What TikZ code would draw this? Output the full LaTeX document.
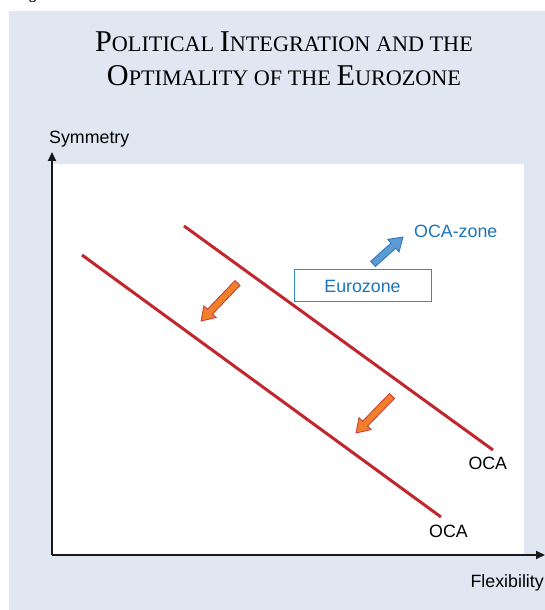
\documentclass[tikz,border=0pt]{standalone}
\usepackage{fontspec}
\setmainfont{Liberation Serif}
\setsansfont{Liberation Sans}
\usetikzlibrary{arrows.meta}
\definecolor{bgblue}{RGB}{224,231,243}
\definecolor{ocared}{RGB}{193,39,45}
\definecolor{arrorange}{RGB}{240,128,42}
\definecolor{arrorangeb}{RGB}{200,56,58}
\definecolor{arrblue}{RGB}{91,155,213}
\definecolor{arrblueb}{RGB}{47,117,181}
\definecolor{textblue}{RGB}{28,117,188}
\definecolor{boxblue}{RGB}{46,139,201}
\newcommand\TBig[1]{{\fontsize{30.2}{32}\selectfont #1}}
\newcommand\TSm[1]{{\fontsize{22.2}{32}\selectfont #1}}
\newcommand\blockarrow[4]{%
  \begin{scope}[shift={(#2)}, rotate=#3]
    \path[#1] (0,-3.5) -- ({#4-13},-3.5) -- ({#4-13},-8.5) -- (#4,0) -- ({#4-13},8.5) -- ({#4-13},3.5) -- (0,3.5) -- cycle;
  \end{scope}}
\begin{document}
\begin{tikzpicture}[x=1pt,y=1pt,
  lab/.style={font=\sffamily\fontsize{17.8}{20}\selectfont, inner sep=0pt},
  ocaline/.style={draw=ocared, line width=3pt},
  axisline/.style={draw=black!90, line width=2.2pt, -{Triangle[width=8pt,length=9pt]}},
  orangearr/.style={fill=arrorange, draw=arrorangeb, line width=0.8pt},
  bluearr/.style={fill=arrblue, draw=arrblueb, line width=0.8pt}]
\useasboundingbox (0,0) rectangle (545,610);
\fill[white] (0,0) rectangle (545,610);
\node[font=\fontsize{14}{14}\selectfont\bfseries, anchor=base, inner sep=0pt] (fig) at (32.5,610.5) {g};
\fill[bgblue] (9,0) rectangle (545,599);
\fill[white] (53,55) rectangle (524,446);
% title
\node[anchor=base, inner sep=0pt] (t1) at (284,558.7) {\TBig{P}\TSm{OLITICAL }\TBig{I}\TSm{NTEGRATION AND THE}};
\node[anchor=base, inner sep=0pt] (t2) at (284,524.7) {\TBig{O}\TSm{PTIMALITY OF THE }\TBig{E}\TSm{UROZONE}};
% axes
\coordinate (origin) at (52,55);
\coordinate (ytip) at (52,458);
\coordinate (xtip) at (545,55);
\draw[axisline] (origin) -- (ytip);
\draw[axisline] (origin) -- (xtip);
\node[lab, anchor=base west] (sym) at (49,466.7) {Symmetry};
\node[lab, anchor=base east] (flex) at (544,23) {Flexibility};
% OCA lines
\coordinate (u1) at (184,384);
\coordinate (u2) at (493,160);
\coordinate (l1) at (82,355);
\coordinate (l2) at (441,93);
\draw[ocaline] (u1) -- (u2);
\draw[ocaline] (l1) -- (l2);
\node[lab, anchor=base west] (ocau) at (468.3,140) {OCA};
\node[lab, anchor=base west] (ocal) at (429,72.3) {OCA};
% Eurozone box
\node[lab, draw=boxblue, line width=1pt, text=textblue, minimum width=137pt, minimum height=32pt] (euro) at (362.5,324) {Eurozone};
\node[lab, anchor=base west, text=textblue] (ocazone) at (414,372.3) {OCA-zone};
% block arrows
\coordinate (a1) at (237.5,327);
\coordinate (a2) at (392,214);
\coordinate (a3) at (373,346);
\blockarrow{orangearr}{a1}{226.2}{52.7}
\blockarrow{orangearr}{a2}{225.8}{51.6}
\blockarrow{bluearr}{a3}{42}{40.4}
\end{tikzpicture}
\end{document}
